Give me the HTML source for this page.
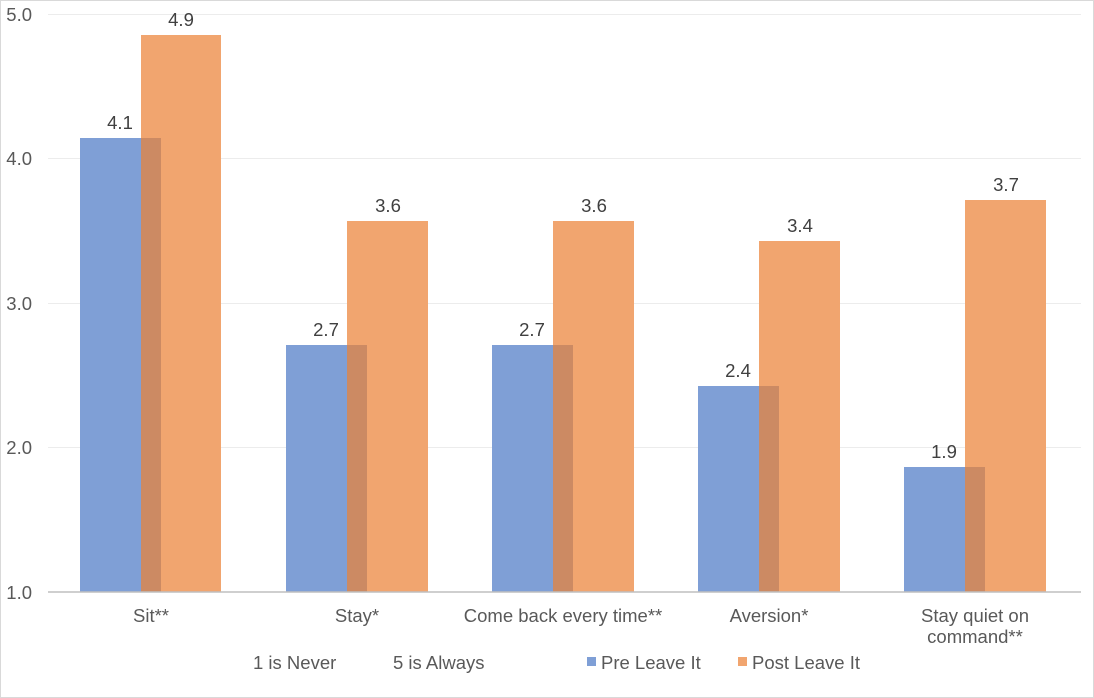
<!DOCTYPE html><html><head><style>body{margin:0;background:#fff}svg{display:block;font-family:"Liberation Sans",Arial,sans-serif}</style></head><body>
<svg width="1094" height="698" xmlns="http://www.w3.org/2000/svg">
<rect x="0.5" y="0.5" width="1093" height="697" fill="#fff" stroke="#d9d9d9"/>
<g stroke="#ececec" stroke-width="1">
<line x1="48" x2="1081" y1="14.5" y2="14.5"/><line x1="48" x2="1081" y1="158.5" y2="158.5"/><line x1="48" x2="1081" y1="303.5" y2="303.5"/><line x1="48" x2="1081" y1="447.5" y2="447.5"/>
</g>
<g font-size="18.5" fill="#595959" text-anchor="end">
<text x="32" y="21">5.0</text><text x="32" y="165">4.0</text><text x="32" y="310">3.0</text><text x="32" y="454">2.0</text><text x="32" y="599">1.0</text>
</g>
<g id="bars">
<rect x="80" y="138" width="81" height="454" fill="#7f9fd6"/><rect x="141" y="35" width="80" height="557" fill="#f1a56f"/><rect x="141" y="138" width="20" height="454" fill="#cc8a63"/>
<rect x="286" y="345" width="81" height="247" fill="#7f9fd6"/><rect x="347" y="221" width="81" height="371" fill="#f1a56f"/><rect x="347" y="345" width="20" height="247" fill="#cc8a63"/>
<rect x="492" y="345" width="81" height="247" fill="#7f9fd6"/><rect x="553" y="221" width="81" height="371" fill="#f1a56f"/><rect x="553" y="345" width="20" height="247" fill="#cc8a63"/>
<rect x="698" y="386" width="81" height="206" fill="#7f9fd6"/><rect x="759" y="241" width="81" height="351" fill="#f1a56f"/><rect x="759" y="386" width="20" height="206" fill="#cc8a63"/>
<rect x="904" y="467" width="81" height="125" fill="#7f9fd6"/><rect x="965" y="200" width="81" height="392" fill="#f1a56f"/><rect x="965" y="467" width="20" height="125" fill="#cc8a63"/>
</g>
<line x1="48" x2="1081" y1="592" y2="592" stroke="#bfbfbf" stroke-width="1.5"/>
<g font-size="18.5" fill="#404040" text-anchor="middle">
<text x="120" y="129">4.1</text><text x="181" y="26">4.9</text>
<text x="326" y="336">2.7</text><text x="388" y="212">3.6</text>
<text x="532" y="336">2.7</text><text x="594" y="212">3.6</text>
<text x="738" y="377">2.4</text><text x="800" y="232">3.4</text>
<text x="944" y="458">1.9</text><text x="1006" y="191">3.7</text>
</g>
<g font-size="18.5" fill="#595959" text-anchor="middle">
<text x="151" y="622">Sit**</text><text x="357" y="622">Stay*</text><text x="563" y="622">Come back every time**</text><text x="769" y="622">Aversion*</text>
<text x="975" y="622">Stay quiet on</text><text x="975" y="643">command**</text>
</g>
<g font-size="18.5" fill="#595959">
<text x="253" y="669">1 is Never</text><text x="393" y="669">5 is Always</text>
<rect x="587" y="657" width="9" height="9" fill="#7f9fd6"/><text x="601" y="669">Pre Leave It</text>
<rect x="738" y="657" width="9" height="9" fill="#f1a56f"/><text x="752" y="669">Post Leave It</text>
</g>
</svg></body></html>
